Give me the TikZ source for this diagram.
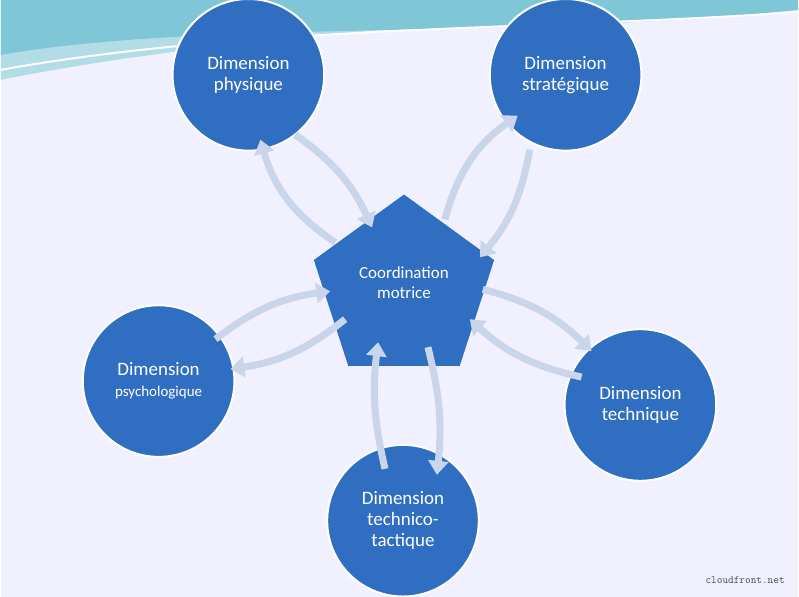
\documentclass[tikz,border=0pt]{standalone}
\usepackage{fontspec}
\setmainfont{Carlito}
\usetikzlibrary{arrows.meta,shapes.geometric}
\definecolor{dimblue}{HTML}{2F6EC0}
\definecolor{flow}{HTML}{C9D5EA}
\definecolor{sea}{HTML}{7FC6D6}
\begin{document}
\begin{tikzpicture}[x=1pt,y=-1pt,
    dim/.style={circle, fill=dimblue, draw=white, line width=2pt, minimum size=152pt,
      text=white, align=center, font=\fontsize{19}{21}\selectfont},
    flux/.style={flow, line width=7pt,
      -{Triangle[length=14pt,width=20pt]}}]
  % fond
  \fill[white!94!blue] (0,0) rectangle (799,598);
  \fill[sea!60] (0,0) -- (0,80) .. controls (250,30) and (550,20) .. (799,0) -- cycle;
  \fill[sea] (0,0) -- (0,55) .. controls (200,20) and (500,40) .. (799,10) -- (799,0) -- cycle;
  \draw[white, line width=2pt] (0,70) .. controls (250,25) and (550,30) .. (799,12);
  \useasboundingbox (0,0) rectangle (799,598);
  % centre
  \node[regular polygon, regular polygon sides=5, fill=dimblue, minimum size=190pt,
    text=white, align=center, font=\fontsize{17}{20}\selectfont] (coord) at (404,290)
    {};
  \node[text=white, align=center, font=\fontsize{17}{20}\selectfont] (coordtxt) at (404,283)
    {Coordination\\motrice};
  % dimensions
  \node[dim] (phys) at (248,75) {Dimension\\physique};
  \node[dim] (strat) at (566,75) {Dimension\\stratégique};
  \node[dim] (psy) at (158,382) {Dimension\\{\fontsize{15}{18}\selectfont psychologique}};
  \node[dim] (tech) at (641,406) {Dimension\\technique};
  \node[dim] (tt) at (403,522) {Dimension\\technico-\\tactique};
  % fleches
  \coordinate (a1) at (335,243); \coordinate (a2) at (260,140);
  \coordinate (b1) at (295,135); \coordinate (b2) at (372,228);
  \coordinate (c1) at (445,220); \coordinate (c2) at (518,116);
  \coordinate (d1) at (530,150); \coordinate (d2) at (480,258);
  \coordinate (e1) at (483,290); \coordinate (e2) at (592,352);
  \coordinate (f1) at (582,378); \coordinate (f2) at (470,320);
  \coordinate (g1) at (385,470); \coordinate (g2) at (378,343);
  \coordinate (h1) at (428,348); \coordinate (h2) at (437,476);
  \coordinate (i1) at (215,340); \coordinate (i2) at (330,292);
  \coordinate (j1) at (345,320); \coordinate (j2) at (230,370);
  \draw[flux] (a1) to[bend left=20] (a2);
  \draw[flux] (b1) to[bend left=15] (b2);
  \draw[flux] (c1) to[bend left=20] (c2);
  \draw[flux] (d1) to[bend left=15] (d2);
  \draw[flux] (e1) to[bend left=15] (e2);
  \draw[flux] (f1) to[bend left=15] (f2);
  \draw[flux] (g1) to[bend left=10] (g2);
  \draw[flux] (h1) to[bend left=10] (h2);
  \draw[flux] (i1) to[bend left=15] (i2);
  \draw[flux] (j1) to[bend left=15] (j2);
  \node[font=\ttfamily\fontsize{11}{12}\selectfont, text=black!70] (src) at (746,582) {cloudfront.net};
\end{tikzpicture}
\end{document}
